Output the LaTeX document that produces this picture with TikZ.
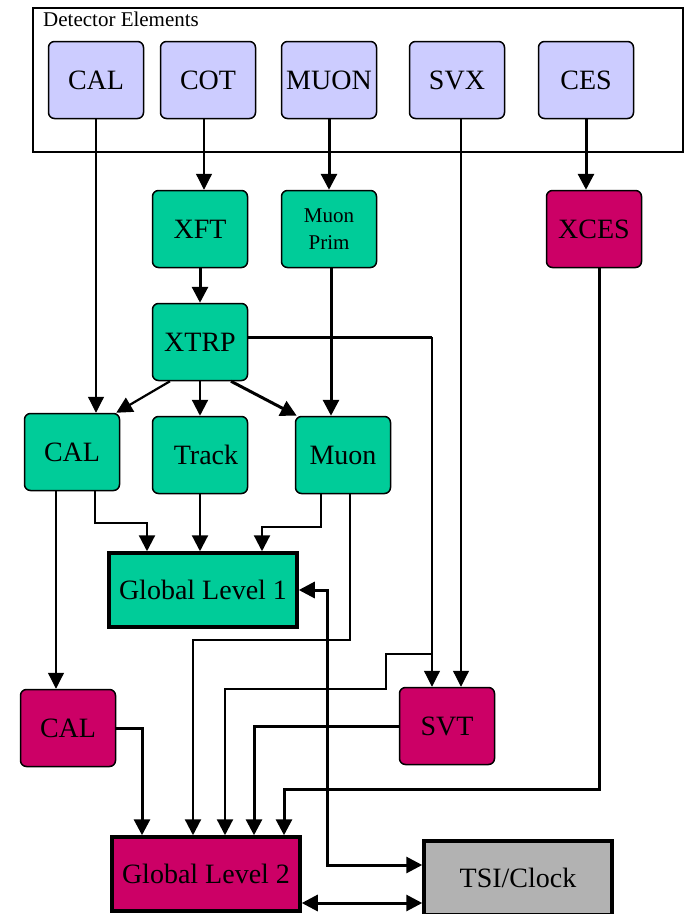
\documentclass[tikz,border=0pt]{standalone}
\usepackage{fontspec}
\setmainfont{Liberation Serif}
\usetikzlibrary{arrows.meta}
\definecolor{detlav}{RGB}{204,204,255}
\definecolor{lvlgreen}{RGB}{0,204,153}
\definecolor{lvlmag}{RGB}{204,0,102}
\definecolor{tsigray}{RGB}{178,178,178}
\begin{document}
\begin{tikzpicture}[x=1pt, y=-1pt, >={Triangle[length=16pt,width=16pt]}]
\tikzstyle{blk}=[draw, line width=1.5pt, rounded corners=6pt, minimum width=95pt, minimum height=77pt, inner sep=0pt, font=\fontsize{28}{30}\selectfont]
\tikzstyle{det}=[blk, fill=detlav]
\tikzstyle{trg}=[blk, fill=lvlgreen]
\tikzstyle{ltw}=[blk, fill=lvlmag]
\tikzstyle{glb}=[draw, line width=3.5pt, minimum width=188pt, minimum height=74pt, inner sep=0pt, font=\fontsize{28}{30}\selectfont]
\tikzstyle{thn}=[line width=1.2pt]
\tikzstyle{mid}=[line width=2.2pt]
\tikzstyle{thk}=[line width=3pt]
\useasboundingbox (0,0) rectangle (685,914);

\node[draw, line width=1.5pt, minimum width=650pt, minimum height=144pt] (frame) at (358,80) {};
\node[anchor=west, inner sep=0pt, font=\fontsize{21}{24}\selectfont] (framelbl) at (43,19) {Detector Elements};

\node[det] (dCAL) at (96,80) {CAL};
\node[det] (dCOT) at (208,80) {COT};
\node[det] (dMUON) at (329,80) {MUON};
\node[det] (dSVX) at (457,80) {SVX};
\node[det] (dCES) at (586,80) {CES};

\node[trg] (XFT) at (200,229) {XFT};
\node[trg, align=center, font=\fontsize{21}{27}\selectfont] (MuPrim) at (329,229) {Muon\\Prim};
\node[ltw] (XCES) at (594,229) {XCES};
\node[trg] (XTRP) at (200,342) {XTRP};

\node[trg] (lCAL) at (72,452) {CAL};
\node[trg] (Track) at (200,455) {\hspace{12pt}Track};
\node[trg] (lMuon) at (343,455) {Muon};
\node[glb, fill=lvlgreen] (GLone) at (203,590) {Global Level 1};

\node[ltw] (sCAL) at (68,728) {CAL};
\node[ltw] (SVT) at (447,726) {SVT};
\node[glb, fill=lvlmag] (GLtwo) at (206,874) {Global Level 2};
\node[glb, fill=tsigray] (TSI) at (518,878) {TSI/Clock};

\coordinate (xtc) at (432,337);
\coordinate (brsvt) at (432,654);

\draw[thn, ->] (dCAL.south) -- (dCAL.south |- lCAL.north);
\draw[thn, ->] ([xshift=-4pt]dCOT.south) -- ([xshift=-4pt]dCOT.south |- XFT.north);
\draw[thk, ->] (dMUON.south) -- (dMUON.south |- MuPrim.north);
\draw[thn, ->] ([xshift=4pt]dSVX.south) -- ([xshift=4pt]dSVX.south |- SVT.north);
\draw[thk, ->] (dCES.south) -- (dCES.south |- XCES.north);

\draw[thk, ->] (XFT) -- (XTRP);
\draw[thk, ->] ([xshift=2pt]MuPrim.south) -- ([xshift=2pt]MuPrim.south |- lMuon.north);
\draw[mid, ->] ([xshift=-30pt]XTRP.south) -- ([xshift=-4pt]lCAL.north east);
\draw[mid, ->] (XTRP.south) -- (Track.north);
\draw[thk, ->] ([xshift=31pt]XTRP.south) -- ([xshift=2pt]lMuon.north west);
\draw[thk] ([yshift=5pt]XTRP.east) -- (xtc);
\draw[thn, ->] (xtc) -- (xtc |- SVT.north);

\draw[mid, ->] ([xshift=23pt]lCAL.south) -- ++(0,32) -| ([xshift=-56pt]GLone.north);
\draw[mid, ->] (Track.south) -- (Track.south |- GLone.north);
\draw[mid, ->] ([xshift=-22pt]lMuon.south) -- ++(0,33) -| ([xshift=59pt]GLone.north);
\draw[mid, ->] ([xshift=7pt]lMuon.south) -- ++(0,146) -| ([xshift=-13pt]GLtwo.north);
\draw[thn, ->] ([xshift=-16pt]lCAL.south) -- ([xshift=-16pt]lCAL.south |- sCAL.north);

\draw[mid, ->] (brsvt) -- ++(-46,0) -- ++(0,35) -| ([xshift=19pt]GLtwo.north);
\draw[thk, ->] (sCAL.east) -| ([xshift=-64pt]GLtwo.north);
\draw[thk, ->] (SVT.west) -| ([xshift=48pt]GLtwo.north);
\draw[thk, ->] ([xshift=5pt]XCES.south) -- ++(0,521) -| ([xshift=78pt]GLtwo.north);

\draw[thk, <->] (GLone.east) -- ++(29,0) |- ([yshift=13pt]TSI.west);
\draw[thk, <->] ([yshift=-29pt]GLtwo.east) -- ([yshift=-29pt]GLtwo.east -| TSI.west);
\end{tikzpicture}
\end{document}
